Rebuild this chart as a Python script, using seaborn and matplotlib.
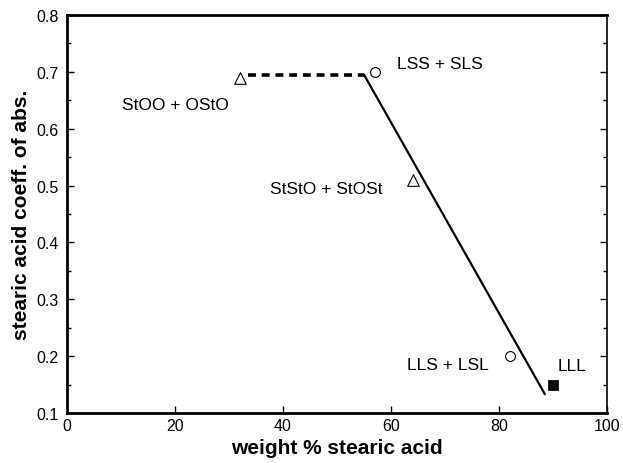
import matplotlib
matplotlib.use("Agg")
import matplotlib.pyplot as plt
import seaborn as sns
import pandas as pd
from matplotlib.ticker import MultipleLocator

sns.set_theme(style="ticks")
plt.rcParams['font.family'] = ['Liberation Sans', 'DejaVu Sans']

# data points
tri_x = [32, 64]
tri_y = [0.69, 0.51]
circ_x = [57, 82]
circ_y = [0.70, 0.20]
sq_x = [90]
sq_y = [0.15]
# lines
dash_x = [33.5, 55]
dash_y = [0.695, 0.695]
solid_x = [55, 88.5]
solid_y = [0.695, 0.133]
# annotations
labels = ["StOO + OStO", "LSS + SLS", "StStO + StOSt", "LLS + LSL", "LLL"]
label_x = [20, 69, 48, 70.5, 93.5]
label_y = [0.643, 0.714, 0.494, 0.186, 0.183]

fig = plt.figure(figsize=(6.23, 4.64), dpi=100)
ax = fig.add_axes([67/623, 1-414/464, (607-67)/623, (414-16)/464])

sns.lineplot(x=dash_x, y=dash_y, ax=ax, color="black", lw=2.6, linestyle=(0, (2.2, 1.6)))
sns.lineplot(x=solid_x, y=solid_y, ax=ax, color="black", lw=1.6)
sns.scatterplot(x=tri_x, y=tri_y, ax=ax, marker="^", s=70, facecolor="white", edgecolor="black", linewidth=0.8, zorder=5)
sns.scatterplot(x=circ_x, y=circ_y, ax=ax, marker="o", s=50, facecolor="white", edgecolor="black", linewidth=0.8, zorder=5)
sns.scatterplot(x=sq_x, y=sq_y, ax=ax, marker="s", s=45, color="black", edgecolor="black", zorder=5)

for t, x, y in zip(labels, label_x, label_y):
    ax.text(x, y, t, ha="center", va="center", fontsize=12.5, color="black")

ax.set_xlim(0, 100)
ax.set_ylim(0.1, 0.8)
ax.xaxis.set_major_locator(MultipleLocator(20))
ax.yaxis.set_major_locator(MultipleLocator(0.1))
ax.yaxis.set_minor_locator(MultipleLocator(0.05))
ax.yaxis.set_major_formatter(matplotlib.ticker.FormatStrFormatter('%.1f'))
ax.tick_params(which="both", direction="in", labelsize=11.5, colors="black", width=1)
ax.tick_params(which="major", length=5)
ax.tick_params(which="minor", length=3)
ax.tick_params(axis="y", which="both", right=True, pad=6)
for s in ax.spines.values():
    s.set_color("black")
ax.spines["left"].set_linewidth(2)
ax.spines["bottom"].set_linewidth(2)
ax.spines["top"].set_linewidth(2)
ax.spines["right"].set_linewidth(1.2)

ax.set_xlabel("weight % stearic acid", fontsize=15, fontweight="bold", labelpad=4, color="black")
ax.set_ylabel("stearic acid coeff. of abs.", fontsize=15, fontweight="bold", labelpad=4, color="black")

fig.savefig("out.png", dpi=100, facecolor="white")
